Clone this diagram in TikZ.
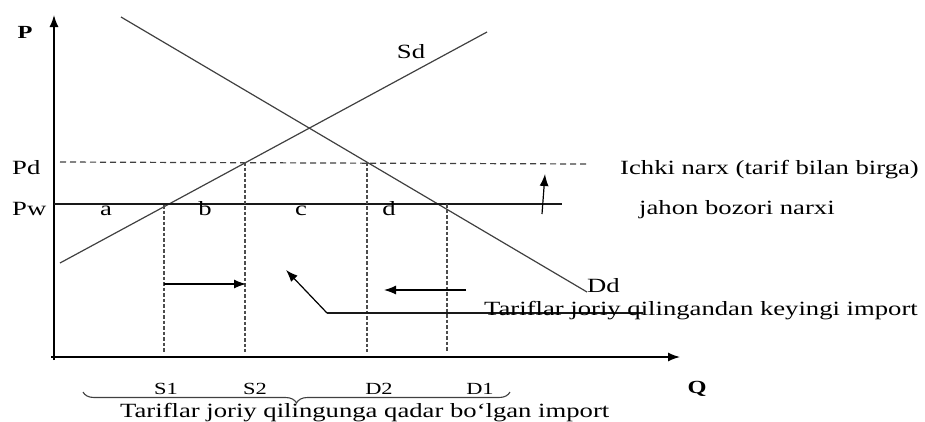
\documentclass[tikz,border=0pt]{standalone}
\usepackage{fontspec}
\setmainfont{Liberation Serif}[FakeStretch=1.32]
\usetikzlibrary{arrows.meta,decorations.pathreplacing}
\begin{document}
\begin{tikzpicture}[x=1pt,y=-1pt,
  axis/.style={line width=1.4pt,black},
  curve/.style={line width=1.2pt,black!75},
  pline/.style={line width=1.3pt,black!90},
  hdash/.style={line width=1.2pt,black!75,dash pattern=on 6pt off 4pt},
  vdash/.style={line width=1.4pt,black!70,dash pattern=on 3.5pt off 2pt},
  arr/.style={line width=1.2pt,black,-{Latex[length=12pt,width=9pt]}},
  big/.style={inner sep=0pt,font=\fontsize{20.2}{24}\selectfont},
  small/.style={inner sep=0pt,font=\fontsize{17}{20}\selectfont},
  axlab/.style={inner sep=0pt,font=\fontsize{18.5}{22}\selectfont\bfseries},
  brc/.style={line width=1.1pt,black!75,decorate,decoration={brace,mirror,amplitude=11pt}}
]
\useasboundingbox (0,0) rectangle (925,421);
% key points
\coordinate (ytop) at (54,15);
\coordinate (ybot) at (54,360);
\coordinate (xleft) at (51,357);
\coordinate (xright) at (680,357);
\coordinate (sdA) at (60,263);
\coordinate (sdB) at (487,32);
\coordinate (ddA) at (121,17);
\coordinate (ddB) at (587,292);
\coordinate (pwA) at (54,204);
\coordinate (pwB) at (562,204);
\coordinate (pdA) at (60,162);
\coordinate (pdB) at (588,164);
\coordinate (s1t) at (164,205);
\coordinate (s1b) at (164,352);
\coordinate (s2t) at (245,162);
\coordinate (s2b) at (245,352);
\coordinate (d2t) at (367,162);
\coordinate (d2b) at (367,352);
\coordinate (d1t) at (447,204);
\coordinate (d1b) at (447,352);
\coordinate (rA) at (164,284);
\coordinate (rB) at (246,284);
\coordinate (lA) at (466,290);
\coordinate (lB) at (384,290);
\coordinate (uA) at (542,214);
\coordinate (uB) at (545,174);
\coordinate (kA) at (327,313);
\coordinate (kB) at (286,270);
\coordinate (kC) at (643,313);
\coordinate (brL) at (83,392);
\coordinate (brR) at (510,392);
% axes
\draw[axis,-{Latex[length=12pt,width=9pt]}] (ybot) -- (ytop);
\draw[axis,-{Latex[length=12pt,width=9pt]}] (xleft) -- (xright);
% curves
\draw[curve] (sdA) -- (sdB);
\draw[curve] (ddA) -- (ddB);
% price lines
\draw[pline] (pwA) -- (pwB);
\draw[hdash] (pdA) -- (pdB);
% verticals
\draw[vdash] (s1t) -- (s1b);
\draw[vdash] (s2t) -- (s2b);
\draw[vdash] (d2t) -- (d2b);
\draw[vdash] (d1t) -- (d1b);
% arrows
\draw[arr] (rA) -- (rB);
\draw[arr] (lA) -- (lB);
\draw[arr] (uA) -- (uB);
\draw[arr] (kA) -- (kB);
\draw[pline] (kA) -- (kC);
% brace
\draw[brc] (brL) -- (brR);
% labels
\node[axlab] (P) at (25,32) {P};
\node[axlab] (Q) at (697,389) {Q};
\node[big,anchor=base west] (Pd) at (12,174) {Pd};
\node[big,anchor=base west] (Pw) at (12,215) {Pw};
\node[big,anchor=base] (la) at (106,215) {a};
\node[big,anchor=base] (lb) at (205,215) {b};
\node[big,anchor=base] (lc) at (301,215) {c};
\node[big,anchor=base] (ld) at (389,215) {d};
\node[big,anchor=base] (Sd) at (411,58) {Sd};
\node[big,anchor=base west] (Dd) at (587,292) {Dd};
\node[small,anchor=base] (S1) at (166,394) {S1};
\node[small,anchor=base] (S2) at (255,394) {S2};
\node[small,anchor=base] (D2) at (379,394) {D2};
\node[small,anchor=base] (D1) at (480,394) {D1};
\node[big,anchor=base west] (ichki) at (620,174) {Ichki narx (tarif bilan birga)};
\node[big,anchor=base west] (jahon) at (639,214) {jahon bozori narxi};
\node[big,anchor=base west] (keyin) at (484,315) {Tariflar joriy qilingandan keyingi import};
\node[big,anchor=base west] (qadar) at (120,417) {Tariflar joriy qilingunga qadar bo‘lgan import};
\end{tikzpicture}
\end{document}
